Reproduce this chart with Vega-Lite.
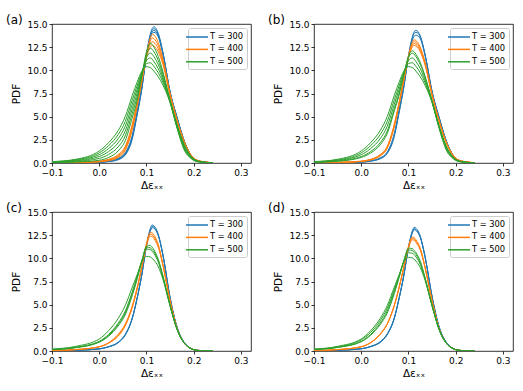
{
"$schema":"https://vega.github.io/schema/vega-lite/v6.json",
"padding":{"left":5,"top":13,"right":11,"bottom":9},
"bounds":"flush",
"columns":2,
"spacing":{"row":49,"column":63},
"resolve":{"legend":{"color":"independent"}},
"config":{
 "font":"DejaVu Sans",
 "view":{"stroke":"#000000","strokeWidth":0.8},
 "axis":{"grid":false,"domain":false,"labelFlush":false,"labelOverlap":false,"tickSize":3,"tickColor":"#000000","tickWidth":0.8,"labelFontSize":9,"labelColor":"#000000","labelPadding":2,"titleFontSize":10.5,"titleFontWeight":"normal","titleColor":"#000000","labelFont":"DejaVu Sans","titleFont":"DejaVu Sans"},
 "axisY":{"titlePadding":5},
 "axisX":{"titlePadding":3},
 "title":{"fontSize":12,"fontWeight":"normal","anchor":"start","frame":"group","dx":-46,"dy":10.7,"offset":0,"baseline":"bottom","color":"#000000","font":"DejaVu Sans"},
 "legend":{"orient":"top-right","offset":4,"padding":3,"fillColor":"white","strokeColor":"#cccccc","cornerRadius":2,"symbolType":"M-2.2,0H2.2","symbolSize":100,"symbolStrokeWidth":1.5,"labelFontSize":8.3,"labelFont":"DejaVu Sans","labelColor":"#000000","labelOffset":7,"rowPadding":2.4,"titlePadding":0}
},
"data":{"values":[
{"p":"a","T":300,"x":-0.1,"c1":0.01,"c2":0.01,"c3":0.02,"c4":0.02},
{"p":"a","T":300,"x":-0.05,"c1":0.02,"c2":0.03,"c3":0.03,"c4":0.04},
{"p":"a","T":300,"x":0,"c1":0.07,"c2":0.08,"c3":0.09,"c4":0.1},
{"p":"a","T":300,"x":0.02,"c1":0.15,"c2":0.17,"c3":0.2,"c4":0.22},
{"p":"a","T":300,"x":0.04,"c1":0.35,"c2":0.4,"c3":0.45,"c4":0.5},
{"p":"a","T":300,"x":0.055,"c1":0.85,"c2":0.93,"c3":1.02,"c4":1.1},
{"p":"a","T":300,"x":0.07,"c1":2.6,"c2":2.73,"c3":2.87,"c4":3.0},
{"p":"a","T":300,"x":0.08,"c1":5.1,"c2":5.23,"c3":5.37,"c4":5.5},
{"p":"a","T":300,"x":0.09,"c1":7.9,"c2":8.0,"c3":8.1,"c4":8.2},
{"p":"a","T":300,"x":0.1,"c1":11.7,"c2":11.63,"c3":11.57,"c4":11.5},
{"p":"a","T":300,"x":0.108,"c1":13.9,"c2":13.73,"c3":13.57,"c4":13.4},
{"p":"a","T":300,"x":0.112,"c1":14.5,"c2":14.33,"c3":14.17,"c4":14.0},
{"p":"a","T":300,"x":0.116,"c1":14.7,"c2":14.5,"c3":14.3,"c4":14.1},
{"p":"a","T":300,"x":0.125,"c1":14.0,"c2":13.87,"c3":13.73,"c4":13.6},
{"p":"a","T":300,"x":0.135,"c1":11.9,"c2":11.83,"c3":11.77,"c4":11.7},
{"p":"a","T":300,"x":0.15,"c1":7.6,"c2":7.63,"c3":7.67,"c4":7.7},
{"p":"a","T":300,"x":0.165,"c1":4.8,"c2":4.83,"c3":4.87,"c4":4.9},
{"p":"a","T":300,"x":0.18,"c1":2.3,"c2":2.33,"c3":2.37,"c4":2.4},
{"p":"a","T":300,"x":0.195,"c1":0.75,"c2":0.77,"c3":0.78,"c4":0.8},
{"p":"a","T":300,"x":0.21,"c1":0.2,"c2":0.21,"c3":0.21,"c4":0.22},
{"p":"a","T":300,"x":0.24,"c1":0.02,"c2":0.02,"c3":0.02,"c4":0.02},
{"p":"a","T":400,"x":-0.1,"c1":0.02,"c2":0.02,"c3":0.03,"c4":0.03},
{"p":"a","T":400,"x":-0.05,"c1":0.04,"c2":0.05,"c3":0.06,"c4":0.07},
{"p":"a","T":400,"x":0,"c1":0.12,"c2":0.15,"c3":0.17,"c4":0.2},
{"p":"a","T":400,"x":0.02,"c1":0.25,"c2":0.3,"c3":0.35,"c4":0.4},
{"p":"a","T":400,"x":0.04,"c1":0.6,"c2":0.7,"c3":0.8,"c4":0.9},
{"p":"a","T":400,"x":0.055,"c1":1.35,"c2":1.5,"c3":1.65,"c4":1.8},
{"p":"a","T":400,"x":0.07,"c1":3.6,"c2":3.8,"c3":4.0,"c4":4.2},
{"p":"a","T":400,"x":0.08,"c1":6.0,"c2":6.17,"c3":6.33,"c4":6.5},
{"p":"a","T":400,"x":0.09,"c1":8.7,"c2":8.8,"c3":8.9,"c4":9.0},
{"p":"a","T":400,"x":0.1,"c1":11.7,"c2":11.6,"c3":11.5,"c4":11.4},
{"p":"a","T":400,"x":0.108,"c1":13.5,"c2":13.17,"c3":12.83,"c4":12.5},
{"p":"a","T":400,"x":0.112,"c1":13.9,"c2":13.5,"c3":13.1,"c4":12.7},
{"p":"a","T":400,"x":0.116,"c1":13.8,"c2":13.4,"c3":13.0,"c4":12.6},
{"p":"a","T":400,"x":0.125,"c1":13.0,"c2":12.67,"c3":12.33,"c4":12.0},
{"p":"a","T":400,"x":0.135,"c1":11.2,"c2":11.0,"c3":10.8,"c4":10.6},
{"p":"a","T":400,"x":0.15,"c1":7.5,"c2":7.43,"c3":7.37,"c4":7.3},
{"p":"a","T":400,"x":0.165,"c1":4.6,"c2":4.57,"c3":4.53,"c4":4.5},
{"p":"a","T":400,"x":0.18,"c1":2.3,"c2":2.27,"c3":2.23,"c4":2.2},
{"p":"a","T":400,"x":0.195,"c1":0.8,"c2":0.79,"c3":0.79,"c4":0.78},
{"p":"a","T":400,"x":0.21,"c1":0.25,"c2":0.25,"c3":0.24,"c4":0.24},
{"p":"a","T":400,"x":0.24,"c1":0.03,"c2":0.03,"c3":0.03,"c4":0.03},
{"p":"a","T":500,"x":-0.1,"c1":0.05,"c2":0.07,"c3":0.09,"c4":0.11,"c5":0.13,"c6":0.15},
{"p":"a","T":500,"x":-0.05,"c1":0.1,"c2":0.16,"c3":0.22,"c4":0.28,"c5":0.34,"c6":0.4},
{"p":"a","T":500,"x":0,"c1":0.3,"c2":0.5,"c3":0.7,"c4":0.9,"c5":1.1,"c6":1.3},
{"p":"a","T":500,"x":0.02,"c1":0.6,"c2":0.92,"c3":1.24,"c4":1.56,"c5":1.88,"c6":2.2},
{"p":"a","T":500,"x":0.04,"c1":1.3,"c2":1.74,"c3":2.18,"c4":2.62,"c5":3.06,"c6":3.5},
{"p":"a","T":500,"x":0.055,"c1":2.4,"c2":2.92,"c3":3.44,"c4":3.96,"c5":4.48,"c6":5.0},
{"p":"a","T":500,"x":0.07,"c1":4.9,"c2":5.38,"c3":5.86,"c4":6.34,"c5":6.82,"c6":7.3},
{"p":"a","T":500,"x":0.08,"c1":6.7,"c2":7.1,"c3":7.5,"c4":7.9,"c5":8.3,"c6":8.7},
{"p":"a","T":500,"x":0.09,"c1":9.3,"c2":9.42,"c3":9.54,"c4":9.66,"c5":9.78,"c6":9.9},
{"p":"a","T":500,"x":0.1,"c1":12.0,"c2":11.68,"c3":11.36,"c4":11.04,"c5":10.72,"c6":10.4},
{"p":"a","T":500,"x":0.108,"c1":12.9,"c2":12.38,"c3":11.86,"c4":11.34,"c5":10.82,"c6":10.3},
{"p":"a","T":500,"x":0.112,"c1":12.8,"c2":12.27,"c3":11.74,"c4":11.21,"c5":10.68,"c6":10.15},
{"p":"a","T":500,"x":0.116,"c1":12.5,"c2":11.98,"c3":11.46,"c4":10.94,"c5":10.42,"c6":9.9},
{"p":"a","T":500,"x":0.125,"c1":11.5,"c2":11.06,"c3":10.62,"c4":10.18,"c5":9.74,"c6":9.3},
{"p":"a","T":500,"x":0.135,"c1":9.8,"c2":9.52,"c3":9.24,"c4":8.96,"c5":8.68,"c6":8.4},
{"p":"a","T":500,"x":0.15,"c1":6.8,"c2":6.74,"c3":6.68,"c4":6.62,"c5":6.56,"c6":6.5},
{"p":"a","T":500,"x":0.165,"c1":4.1,"c2":4.02,"c3":3.94,"c4":3.86,"c5":3.78,"c6":3.7},
{"p":"a","T":500,"x":0.18,"c1":2.0,"c2":1.88,"c3":1.76,"c4":1.64,"c5":1.52,"c6":1.4},
{"p":"a","T":500,"x":0.195,"c1":0.7,"c2":0.65,"c3":0.6,"c4":0.55,"c5":0.5,"c6":0.45},
{"p":"a","T":500,"x":0.21,"c1":0.2,"c2":0.18,"c3":0.17,"c4":0.15,"c5":0.14,"c6":0.12},
{"p":"a","T":500,"x":0.24,"c1":0.02,"c2":0.02,"c3":0.02,"c4":0.01,"c5":0.01,"c6":0.01},
{"p":"b","T":300,"x":-0.1,"c1":0.02,"c2":0.02,"c3":0.02},
{"p":"b","T":300,"x":-0.05,"c1":0.03,"c2":0.04,"c3":0.05},
{"p":"b","T":300,"x":0,"c1":0.09,"c2":0.1,"c3":0.11},
{"p":"b","T":300,"x":0.02,"c1":0.2,"c2":0.22,"c3":0.25},
{"p":"b","T":300,"x":0.04,"c1":0.45,"c2":0.5,"c3":0.55},
{"p":"b","T":300,"x":0.055,"c1":1.02,"c2":1.1,"c3":1.2},
{"p":"b","T":300,"x":0.07,"c1":2.87,"c2":3.0,"c3":3.2},
{"p":"b","T":300,"x":0.08,"c1":5.37,"c2":5.5,"c3":5.7},
{"p":"b","T":300,"x":0.09,"c1":8.1,"c2":8.2,"c3":8.3},
{"p":"b","T":300,"x":0.1,"c1":11.57,"c2":11.5,"c3":11.4},
{"p":"b","T":300,"x":0.108,"c1":13.57,"c2":13.4,"c3":13.2},
{"p":"b","T":300,"x":0.112,"c1":14.17,"c2":14.0,"c3":13.7},
{"p":"b","T":300,"x":0.116,"c1":14.3,"c2":14.1,"c3":13.8},
{"p":"b","T":300,"x":0.125,"c1":13.73,"c2":13.6,"c3":13.4},
{"p":"b","T":300,"x":0.135,"c1":11.77,"c2":11.7,"c3":11.6},
{"p":"b","T":300,"x":0.15,"c1":7.67,"c2":7.7,"c3":7.7},
{"p":"b","T":300,"x":0.165,"c1":4.87,"c2":4.9,"c3":4.9},
{"p":"b","T":300,"x":0.18,"c1":2.37,"c2":2.4,"c3":2.4},
{"p":"b","T":300,"x":0.195,"c1":0.78,"c2":0.8,"c3":0.8},
{"p":"b","T":300,"x":0.21,"c1":0.21,"c2":0.22,"c3":0.22},
{"p":"b","T":300,"x":0.24,"c1":0.02,"c2":0.02,"c3":0.02},
{"p":"b","T":400,"x":-0.1,"c1":0.025,"c2":0.03,"c3":0.03,"c4":0.03},
{"p":"b","T":400,"x":-0.05,"c1":0.055,"c2":0.06,"c3":0.065,"c4":0.07},
{"p":"b","T":400,"x":0,"c1":0.16,"c2":0.17,"c3":0.185,"c4":0.2},
{"p":"b","T":400,"x":0.02,"c1":0.33,"c2":0.35,"c3":0.38,"c4":0.4},
{"p":"b","T":400,"x":0.04,"c1":0.75,"c2":0.8,"c3":0.85,"c4":0.9},
{"p":"b","T":400,"x":0.055,"c1":1.58,"c2":1.65,"c3":1.73,"c4":1.8},
{"p":"b","T":400,"x":0.07,"c1":3.9,"c2":4.0,"c3":4.1,"c4":4.2},
{"p":"b","T":400,"x":0.08,"c1":6.25,"c2":6.33,"c3":6.42,"c4":6.5},
{"p":"b","T":400,"x":0.09,"c1":8.85,"c2":8.9,"c3":8.95,"c4":9.0},
{"p":"b","T":400,"x":0.1,"c1":11.55,"c2":11.5,"c3":11.45,"c4":11.4},
{"p":"b","T":400,"x":0.108,"c1":13.0,"c2":12.83,"c3":12.67,"c4":12.5},
{"p":"b","T":400,"x":0.112,"c1":13.3,"c2":13.1,"c3":12.9,"c4":12.7},
{"p":"b","T":400,"x":0.116,"c1":13.2,"c2":13.0,"c3":12.8,"c4":12.6},
{"p":"b","T":400,"x":0.125,"c1":12.5,"c2":12.33,"c3":12.17,"c4":12.0},
{"p":"b","T":400,"x":0.135,"c1":10.9,"c2":10.8,"c3":10.7,"c4":10.6},
{"p":"b","T":400,"x":0.15,"c1":7.4,"c2":7.37,"c3":7.33,"c4":7.3},
{"p":"b","T":400,"x":0.165,"c1":4.55,"c2":4.53,"c3":4.52,"c4":4.5},
{"p":"b","T":400,"x":0.18,"c1":2.25,"c2":2.23,"c3":2.22,"c4":2.2},
{"p":"b","T":400,"x":0.195,"c1":0.79,"c2":0.79,"c3":0.78,"c4":0.78},
{"p":"b","T":400,"x":0.21,"c1":0.245,"c2":0.24,"c3":0.24,"c4":0.24},
{"p":"b","T":400,"x":0.24,"c1":0.03,"c2":0.03,"c3":0.03,"c4":0.03},
{"p":"b","T":500,"x":-0.1,"c1":0.08,"c2":0.09,"c3":0.11,"c4":0.13,"c5":0.15},
{"p":"b","T":500,"x":-0.05,"c1":0.19,"c2":0.22,"c3":0.28,"c4":0.34,"c5":0.4},
{"p":"b","T":500,"x":0,"c1":0.6,"c2":0.7,"c3":0.9,"c4":1.1,"c5":1.3},
{"p":"b","T":500,"x":0.02,"c1":1.08,"c2":1.24,"c3":1.56,"c4":1.88,"c5":2.2},
{"p":"b","T":500,"x":0.04,"c1":1.96,"c2":2.18,"c3":2.62,"c4":3.06,"c5":3.5},
{"p":"b","T":500,"x":0.055,"c1":3.18,"c2":3.44,"c3":3.96,"c4":4.48,"c5":5.0},
{"p":"b","T":500,"x":0.07,"c1":5.62,"c2":5.86,"c3":6.34,"c4":6.82,"c5":7.3},
{"p":"b","T":500,"x":0.08,"c1":7.3,"c2":7.5,"c3":7.9,"c4":8.3,"c5":8.7},
{"p":"b","T":500,"x":0.09,"c1":9.48,"c2":9.54,"c3":9.66,"c4":9.78,"c5":9.9},
{"p":"b","T":500,"x":0.1,"c1":11.52,"c2":11.36,"c3":11.04,"c4":10.72,"c5":10.4},
{"p":"b","T":500,"x":0.108,"c1":12.12,"c2":11.86,"c3":11.34,"c4":10.82,"c5":10.3},
{"p":"b","T":500,"x":0.112,"c1":12.0,"c2":11.74,"c3":11.21,"c4":10.68,"c5":10.15},
{"p":"b","T":500,"x":0.116,"c1":11.72,"c2":11.46,"c3":10.94,"c4":10.42,"c5":9.9},
{"p":"b","T":500,"x":0.125,"c1":10.84,"c2":10.62,"c3":10.18,"c4":9.74,"c5":9.3},
{"p":"b","T":500,"x":0.135,"c1":9.38,"c2":9.24,"c3":8.96,"c4":8.68,"c5":8.4},
{"p":"b","T":500,"x":0.15,"c1":6.71,"c2":6.68,"c3":6.62,"c4":6.56,"c5":6.5},
{"p":"b","T":500,"x":0.165,"c1":3.98,"c2":3.94,"c3":3.86,"c4":3.78,"c5":3.7},
{"p":"b","T":500,"x":0.18,"c1":1.82,"c2":1.76,"c3":1.64,"c4":1.52,"c5":1.4},
{"p":"b","T":500,"x":0.195,"c1":0.62,"c2":0.6,"c3":0.55,"c4":0.5,"c5":0.45},
{"p":"b","T":500,"x":0.21,"c1":0.17,"c2":0.17,"c3":0.15,"c4":0.14,"c5":0.12},
{"p":"b","T":500,"x":0.24,"c1":0.02,"c2":0.02,"c3":0.01,"c4":0.01,"c5":0.01},
{"p":"c","T":300,"x":-0.1,"c1":0.03,"c2":0.03,"c3":0.03},
{"p":"c","T":300,"x":-0.05,"c1":0.07,"c2":0.07,"c3":0.08},
{"p":"c","T":300,"x":0,"c1":0.22,"c2":0.22,"c3":0.24},
{"p":"c","T":300,"x":0.02,"c1":0.45,"c2":0.45,"c3":0.48},
{"p":"c","T":300,"x":0.04,"c1":0.9,"c2":0.9,"c3":0.95},
{"p":"c","T":300,"x":0.055,"c1":1.7,"c2":1.75,"c3":1.8},
{"p":"c","T":300,"x":0.07,"c1":3.5,"c2":3.55,"c3":3.6},
{"p":"c","T":300,"x":0.08,"c1":5.6,"c2":5.65,"c3":5.7},
{"p":"c","T":300,"x":0.09,"c1":8.2,"c2":8.2,"c3":8.2},
{"p":"c","T":300,"x":0.1,"c1":11.4,"c2":11.35,"c3":11.3},
{"p":"c","T":300,"x":0.108,"c1":13.2,"c2":13.05,"c3":12.9},
{"p":"c","T":300,"x":0.112,"c1":13.6,"c2":13.45,"c3":13.3},
{"p":"c","T":300,"x":0.116,"c1":13.5,"c2":13.35,"c3":13.25},
{"p":"c","T":300,"x":0.125,"c1":12.6,"c2":12.5,"c3":12.45},
{"p":"c","T":300,"x":0.135,"c1":10.3,"c2":10.3,"c3":10.35},
{"p":"c","T":300,"x":0.15,"c1":5.7,"c2":5.75,"c3":5.8},
{"p":"c","T":300,"x":0.165,"c1":2.5,"c2":2.5,"c3":2.55},
{"p":"c","T":300,"x":0.18,"c1":0.9,"c2":0.9,"c3":0.92},
{"p":"c","T":300,"x":0.195,"c1":0.25,"c2":0.25,"c3":0.26},
{"p":"c","T":300,"x":0.21,"c1":0.06,"c2":0.06,"c3":0.06},
{"p":"c","T":300,"x":0.24,"c1":0.01,"c2":0.01,"c3":0.01},
{"p":"c","T":400,"x":-0.1,"c1":0.05,"c2":0.05,"c3":0.05},
{"p":"c","T":400,"x":-0.05,"c1":0.15,"c2":0.15,"c3":0.15},
{"p":"c","T":400,"x":0,"c1":0.45,"c2":0.45,"c3":0.47},
{"p":"c","T":400,"x":0.02,"c1":0.85,"c2":0.87,"c3":0.9},
{"p":"c","T":400,"x":0.04,"c1":1.6,"c2":1.7,"c3":1.8},
{"p":"c","T":400,"x":0.055,"c1":2.7,"c2":2.8,"c3":2.9},
{"p":"c","T":400,"x":0.07,"c1":4.7,"c2":4.8,"c3":4.9},
{"p":"c","T":400,"x":0.08,"c1":6.6,"c2":6.7,"c3":6.8},
{"p":"c","T":400,"x":0.09,"c1":9.0,"c2":9.0,"c3":9.05},
{"p":"c","T":400,"x":0.1,"c1":11.6,"c2":11.5,"c3":11.35},
{"p":"c","T":400,"x":0.108,"c1":12.8,"c2":12.6,"c3":12.4},
{"p":"c","T":400,"x":0.112,"c1":12.75,"c2":12.55,"c3":12.35},
{"p":"c","T":400,"x":0.116,"c1":12.5,"c2":12.3,"c3":12.1},
{"p":"c","T":400,"x":0.125,"c1":11.5,"c2":11.35,"c3":11.2},
{"p":"c","T":400,"x":0.135,"c1":9.3,"c2":9.25,"c3":9.2},
{"p":"c","T":400,"x":0.15,"c1":5.4,"c2":5.4,"c3":5.4},
{"p":"c","T":400,"x":0.165,"c1":2.4,"c2":2.4,"c3":2.4},
{"p":"c","T":400,"x":0.18,"c1":0.85,"c2":0.85,"c3":0.85},
{"p":"c","T":400,"x":0.195,"c1":0.25,"c2":0.25,"c3":0.25},
{"p":"c","T":400,"x":0.21,"c1":0.06,"c2":0.06,"c3":0.06},
{"p":"c","T":400,"x":0.24,"c1":0.01,"c2":0.01,"c3":0.01},
{"p":"c","T":500,"x":-0.1,"c1":0.15,"c2":0.16,"c3":0.17,"c4":0.2},
{"p":"c","T":500,"x":-0.05,"c1":0.35,"c2":0.38,"c3":0.4,"c4":0.5},
{"p":"c","T":500,"x":0,"c1":0.95,"c2":1.0,"c3":1.05,"c4":1.3},
{"p":"c","T":500,"x":0.02,"c1":1.6,"c2":1.7,"c3":1.8,"c4":2.2},
{"p":"c","T":500,"x":0.04,"c1":2.7,"c2":2.85,"c3":3.0,"c4":3.5},
{"p":"c","T":500,"x":0.055,"c1":3.9,"c2":4.1,"c3":4.3,"c4":4.9},
{"p":"c","T":500,"x":0.07,"c1":6.0,"c2":6.2,"c3":6.4,"c4":6.9},
{"p":"c","T":500,"x":0.08,"c1":7.7,"c2":7.9,"c3":8.0,"c4":8.2},
{"p":"c","T":500,"x":0.09,"c1":9.6,"c2":9.7,"c3":9.7,"c4":9.6},
{"p":"c","T":500,"x":0.1,"c1":11.3,"c2":11.2,"c3":11.0,"c4":10.2},
{"p":"c","T":500,"x":0.108,"c1":11.4,"c2":11.15,"c3":10.95,"c4":10.15},
{"p":"c","T":500,"x":0.112,"c1":11.2,"c2":10.95,"c3":10.75,"c4":10.0},
{"p":"c","T":500,"x":0.116,"c1":10.9,"c2":10.7,"c3":10.5,"c4":9.8},
{"p":"c","T":500,"x":0.125,"c1":9.9,"c2":9.75,"c3":9.6,"c4":9.1},
{"p":"c","T":500,"x":0.135,"c1":8.1,"c2":8.0,"c3":7.9,"c4":7.7},
{"p":"c","T":500,"x":0.15,"c1":4.9,"c2":4.9,"c3":4.85,"c4":4.9},
{"p":"c","T":500,"x":0.165,"c1":2.3,"c2":2.3,"c3":2.3,"c4":2.3},
{"p":"c","T":500,"x":0.18,"c1":0.85,"c2":0.85,"c3":0.85,"c4":0.85},
{"p":"c","T":500,"x":0.195,"c1":0.25,"c2":0.25,"c3":0.25,"c4":0.25},
{"p":"c","T":500,"x":0.21,"c1":0.06,"c2":0.06,"c3":0.06,"c4":0.06},
{"p":"c","T":500,"x":0.24,"c1":0.01,"c2":0.01,"c3":0.01,"c4":0.01},
{"p":"d","T":300,"x":-0.1,"c1":0.03,"c2":0.03,"c3":0.03},
{"p":"d","T":300,"x":-0.05,"c1":0.07,"c2":0.08,"c3":0.08},
{"p":"d","T":300,"x":0,"c1":0.23,"c2":0.24,"c3":0.25},
{"p":"d","T":300,"x":0.02,"c1":0.47,"c2":0.48,"c3":0.5},
{"p":"d","T":300,"x":0.04,"c1":0.92,"c2":0.95,"c3":1.0},
{"p":"d","T":300,"x":0.055,"c1":1.75,"c2":1.8,"c3":1.85},
{"p":"d","T":300,"x":0.07,"c1":3.5,"c2":3.55,"c3":3.6},
{"p":"d","T":300,"x":0.08,"c1":5.6,"c2":5.65,"c3":5.7},
{"p":"d","T":300,"x":0.09,"c1":8.1,"c2":8.1,"c3":8.15},
{"p":"d","T":300,"x":0.1,"c1":11.2,"c2":11.15,"c3":11.1},
{"p":"d","T":300,"x":0.108,"c1":12.95,"c2":12.8,"c3":12.7},
{"p":"d","T":300,"x":0.112,"c1":13.35,"c2":13.2,"c3":13.1},
{"p":"d","T":300,"x":0.116,"c1":13.25,"c2":13.1,"c3":13.0},
{"p":"d","T":300,"x":0.125,"c1":12.4,"c2":12.3,"c3":12.25},
{"p":"d","T":300,"x":0.135,"c1":10.2,"c2":10.2,"c3":10.2},
{"p":"d","T":300,"x":0.15,"c1":5.8,"c2":5.85,"c3":5.9},
{"p":"d","T":300,"x":0.165,"c1":2.55,"c2":2.55,"c3":2.6},
{"p":"d","T":300,"x":0.18,"c1":0.92,"c2":0.92,"c3":0.94},
{"p":"d","T":300,"x":0.195,"c1":0.26,"c2":0.26,"c3":0.26},
{"p":"d","T":300,"x":0.21,"c1":0.06,"c2":0.06,"c3":0.06},
{"p":"d","T":300,"x":0.24,"c1":0.01,"c2":0.01,"c3":0.01},
{"p":"d","T":400,"x":-0.1,"c1":0.05,"c2":0.05,"c3":0.05},
{"p":"d","T":400,"x":-0.05,"c1":0.15,"c2":0.15,"c3":0.15},
{"p":"d","T":400,"x":0,"c1":0.45,"c2":0.46,"c3":0.47},
{"p":"d","T":400,"x":0.02,"c1":0.9,"c2":0.9,"c3":0.92},
{"p":"d","T":400,"x":0.04,"c1":1.8,"c2":1.8,"c3":1.85},
{"p":"d","T":400,"x":0.055,"c1":2.9,"c2":2.9,"c3":2.95},
{"p":"d","T":400,"x":0.07,"c1":4.9,"c2":4.9,"c3":4.95},
{"p":"d","T":400,"x":0.08,"c1":6.8,"c2":6.8,"c3":6.85},
{"p":"d","T":400,"x":0.09,"c1":9.0,"c2":9.0,"c3":9.0},
{"p":"d","T":400,"x":0.1,"c1":11.3,"c2":11.2,"c3":11.1},
{"p":"d","T":400,"x":0.108,"c1":12.3,"c2":12.15,"c3":12.0},
{"p":"d","T":400,"x":0.112,"c1":12.25,"c2":12.1,"c3":11.95},
{"p":"d","T":400,"x":0.116,"c1":12.0,"c2":11.85,"c3":11.7},
{"p":"d","T":400,"x":0.125,"c1":11.1,"c2":11.0,"c3":10.9},
{"p":"d","T":400,"x":0.135,"c1":9.1,"c2":9.05,"c3":9.0},
{"p":"d","T":400,"x":0.15,"c1":5.4,"c2":5.4,"c3":5.4},
{"p":"d","T":400,"x":0.165,"c1":2.4,"c2":2.4,"c3":2.4},
{"p":"d","T":400,"x":0.18,"c1":0.85,"c2":0.85,"c3":0.85},
{"p":"d","T":400,"x":0.195,"c1":0.25,"c2":0.25,"c3":0.25},
{"p":"d","T":400,"x":0.21,"c1":0.06,"c2":0.06,"c3":0.06},
{"p":"d","T":400,"x":0.24,"c1":0.01,"c2":0.01,"c3":0.01},
{"p":"d","T":500,"x":-0.1,"c1":0.16,"c2":0.17,"c3":0.18,"c4":0.2},
{"p":"d","T":500,"x":-0.05,"c1":0.38,"c2":0.4,"c3":0.45,"c4":0.5},
{"p":"d","T":500,"x":0,"c1":1.0,"c2":1.05,"c3":1.2,"c4":1.3},
{"p":"d","T":500,"x":0.02,"c1":1.7,"c2":1.8,"c3":2.0,"c4":2.2},
{"p":"d","T":500,"x":0.04,"c1":2.85,"c2":3.0,"c3":3.25,"c4":3.5},
{"p":"d","T":500,"x":0.055,"c1":4.1,"c2":4.3,"c3":4.6,"c4":4.9},
{"p":"d","T":500,"x":0.07,"c1":6.2,"c2":6.4,"c3":6.6,"c4":6.9},
{"p":"d","T":500,"x":0.08,"c1":7.9,"c2":8.0,"c3":8.1,"c4":8.2},
{"p":"d","T":500,"x":0.09,"c1":9.7,"c2":9.7,"c3":9.6,"c4":9.6},
{"p":"d","T":500,"x":0.1,"c1":11.1,"c2":10.9,"c3":10.6,"c4":10.1},
{"p":"d","T":500,"x":0.108,"c1":11.05,"c2":10.85,"c3":10.55,"c4":10.05},
{"p":"d","T":500,"x":0.112,"c1":10.85,"c2":10.65,"c3":10.4,"c4":9.9},
{"p":"d","T":500,"x":0.116,"c1":10.6,"c2":10.4,"c3":10.15,"c4":9.7},
{"p":"d","T":500,"x":0.125,"c1":9.7,"c2":9.5,"c3":9.35,"c4":9.0},
{"p":"d","T":500,"x":0.135,"c1":7.95,"c2":7.85,"c3":7.8,"c4":7.65},
{"p":"d","T":500,"x":0.15,"c1":4.9,"c2":4.85,"c3":4.9,"c4":4.9},
{"p":"d","T":500,"x":0.165,"c1":2.3,"c2":2.3,"c3":2.3,"c4":2.3},
{"p":"d","T":500,"x":0.18,"c1":0.85,"c2":0.85,"c3":0.85,"c4":0.85},
{"p":"d","T":500,"x":0.195,"c1":0.25,"c2":0.25,"c3":0.25,"c4":0.25},
{"p":"d","T":500,"x":0.21,"c1":0.06,"c2":0.06,"c3":0.06,"c4":0.06},
{"p":"d","T":500,"x":0.24,"c1":0.01,"c2":0.01,"c3":0.01,"c4":0.01}
]},
"concat":[
{"title":"(a)","width":199,"height":139,
 "transform":[{"filter":"datum.p == 'a'"},{"fold":["c1","c2","c3","c4","c5","c6"],"as":["k","y"]},{"filter":"isValid(datum.y)"}],
 "mark":{"type":"line","interpolate":"monotone","strokeWidth":1,"clip":true},
 "encoding":{
  "x":{"field":"x","type":"quantitative","title":"Δεₓₓ","scale":{"domain":[-0.1,0.3213],"nice":false,"zero":false},"axis":{"values":[-0.1,0,0.1,0.2,0.3],"format":".1f"}},
  "y":{"field":"y","type":"quantitative","title":"PDF","scale":{"domain":[0,15],"nice":false},"axis":{"values":[0,2.5,5,7.5,10,12.5,15],"format":".1f"}},
  "color":{"field":"T","type":"nominal","scale":{"domain":[300,400,500],"range":["#1f77b4","#ff7f0e","#2ca02c"]},"legend":{"title":null,"labelExpr":"'T = ' + datum.label"}},
  "detail":{"field":"k"}}},
{"title":"(b)","width":199,"height":139,
 "transform":[{"filter":"datum.p == 'b'"},{"fold":["c1","c2","c3","c4","c5","c6"],"as":["k","y"]},{"filter":"isValid(datum.y)"}],
 "mark":{"type":"line","interpolate":"monotone","strokeWidth":1,"clip":true},
 "encoding":{
  "x":{"field":"x","type":"quantitative","title":"Δεₓₓ","scale":{"domain":[-0.1,0.3213],"nice":false,"zero":false},"axis":{"values":[-0.1,0,0.1,0.2,0.3],"format":".1f"}},
  "y":{"field":"y","type":"quantitative","title":"PDF","scale":{"domain":[0,15],"nice":false},"axis":{"values":[0,2.5,5,7.5,10,12.5,15],"format":".1f"}},
  "color":{"field":"T","type":"nominal","scale":{"domain":[300,400,500],"range":["#1f77b4","#ff7f0e","#2ca02c"]},"legend":{"title":null,"labelExpr":"'T = ' + datum.label"}},
  "detail":{"field":"k"}}},
{"title":"(c)","width":199,"height":139,
 "transform":[{"filter":"datum.p == 'c'"},{"fold":["c1","c2","c3","c4","c5","c6"],"as":["k","y"]},{"filter":"isValid(datum.y)"}],
 "mark":{"type":"line","interpolate":"monotone","strokeWidth":1,"clip":true},
 "encoding":{
  "x":{"field":"x","type":"quantitative","title":"Δεₓₓ","scale":{"domain":[-0.1,0.3213],"nice":false,"zero":false},"axis":{"values":[-0.1,0,0.1,0.2,0.3],"format":".1f"}},
  "y":{"field":"y","type":"quantitative","title":"PDF","scale":{"domain":[0,15],"nice":false},"axis":{"values":[0,2.5,5,7.5,10,12.5,15],"format":".1f"}},
  "color":{"field":"T","type":"nominal","scale":{"domain":[300,400,500],"range":["#1f77b4","#ff7f0e","#2ca02c"]},"legend":{"title":null,"labelExpr":"'T = ' + datum.label"}},
  "detail":{"field":"k"}}},
{"title":"(d)","width":199,"height":139,
 "transform":[{"filter":"datum.p == 'd'"},{"fold":["c1","c2","c3","c4","c5","c6"],"as":["k","y"]},{"filter":"isValid(datum.y)"}],
 "mark":{"type":"line","interpolate":"monotone","strokeWidth":1,"clip":true},
 "encoding":{
  "x":{"field":"x","type":"quantitative","title":"Δεₓₓ","scale":{"domain":[-0.1,0.3213],"nice":false,"zero":false},"axis":{"values":[-0.1,0,0.1,0.2,0.3],"format":".1f"}},
  "y":{"field":"y","type":"quantitative","title":"PDF","scale":{"domain":[0,15],"nice":false},"axis":{"values":[0,2.5,5,7.5,10,12.5,15],"format":".1f"}},
  "color":{"field":"T","type":"nominal","scale":{"domain":[300,400,500],"range":["#1f77b4","#ff7f0e","#2ca02c"]},"legend":{"title":null,"labelExpr":"'T = ' + datum.label"}},
  "detail":{"field":"k"}}}
]
}
